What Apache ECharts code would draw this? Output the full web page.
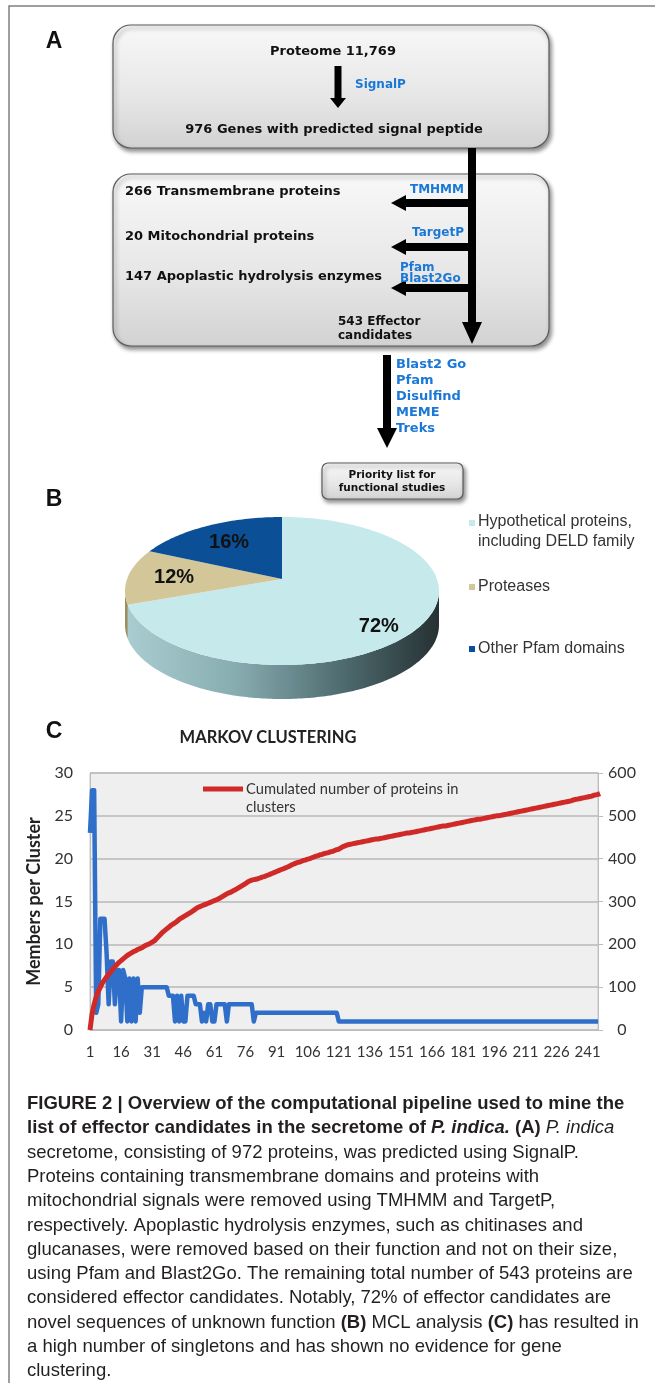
<!DOCTYPE html>
<html><head><meta charset="utf-8">
<script src="https://cdn.jsdelivr.net/npm/echarts@6/dist/echarts.min.js"></script>
<style>html,body{margin:0;padding:0;background:#fff}#c{width:655px;height:1383px}</style>
</head><body><div id="c"></div>
<script>
// ---------------- DATA ----------------
const flowTop = ['Proteome 11,769', '976 Genes with predicted signal peptide'];
const flowTopTool = 'SignalP';
const filterSteps = ['266 Transmembrane proteins', '20 Mitochondrial proteins', '147 Apoplastic hydrolysis enzymes'];
const filterTools = ['TMHMM', 'TargetP', 'Pfam\nBlast2Go'];
const effectorLabel = '543 Effector\ncandidates';
const annotationTools = ['Blast2 Go', 'Pfam', 'Disulfind', 'MEME', 'Treks'];
const priorityLabel = 'Priority list for\nfunctional studies';

const pieNames = ['Hypothetical proteins,\nincluding DELD family', 'Proteases', 'Other Pfam domains'];
const pieValues = [72, 12, 16];

const chartTitle = 'MARKOV CLUSTERING';
const leftAxisName = 'Members per Cluster';
const redSeriesName = 'Cumulated number of proteins in\nclusters';

const membersPerCluster = [
  23, 28, 28, 2, 3, 13, 13, 13, 9, 3, 8, 8, 3, 7, 7, 1, 7, 6, 1, 6, 1, 6, 1, 6, 2,
  5, 5, 5, 5, 5, 5, 5, 5, 5, 5, 5, 5, 5,
  4, 4, 4, 1, 4, 1, 4, 1, 1, 4, 4, 4, 4,
  3, 3, 3, 1, 2, 1, 3, 3, 1, 1, 3, 3, 3, 3, 3, 1, 3, 3, 3, 3, 3, 3, 3, 3, 3, 3, 3, 3,
  1,
  2, 2, 2, 2, 2, 2, 2, 2, 2, 2, 2, 2, 2, 2, 2, 2, 2, 2, 2, 2,
  2, 2, 2, 2, 2, 2, 2, 2, 2, 2, 2, 2, 2, 2, 2, 2, 2, 2, 2, 2,
  1, 1, 1, 1, 1, 1, 1, 1, 1, 1, 1, 1, 1, 1, 1, 1, 1, 1, 1, 1, 1, 1, 1, 1, 1, 1, 1, 1, 1, 1,
  1, 1, 1, 1, 1, 1, 1, 1, 1, 1, 1, 1, 1, 1, 1, 1, 1, 1, 1, 1, 1, 1, 1, 1, 1, 1, 1, 1, 1, 1,
  1, 1, 1, 1, 1, 1, 1, 1, 1, 1, 1, 1, 1, 1, 1, 1, 1, 1, 1, 1, 1, 1, 1, 1, 1, 1, 1, 1, 1, 1,
  1, 1, 1, 1, 1, 1, 1, 1, 1, 1, 1, 1, 1, 1, 1, 1, 1, 1, 1, 1, 1, 1, 1, 1, 1, 1, 1, 1, 1, 1,
  1, 1, 1, 1, 1, 1
];

const cumulatedProteins = [
  0, 38, 60, 78, 90, 100, 110, 117, 124, 130,
  136, 142, 148, 153, 158, 162, 166, 170, 174, 177,
  180, 183, 185, 188, 190, 192, 195, 198, 200, 202,
  205, 208, 213, 218, 223, 228, 232, 236, 240, 244,
  247, 250, 254, 258, 261, 264, 267, 270, 273, 276,
  279, 283, 286, 288, 290, 292, 294, 296, 298, 300,
  302, 304, 306, 309, 312, 315, 318, 320, 322, 325,
  327, 330, 333, 336, 339, 342, 345, 348, 350, 351,
  352, 353, 355, 357, 358, 360, 362, 364, 366, 368,
  370, 372, 374, 376, 378, 380, 382, 385, 387, 389,
  391, 392, 394, 396, 397, 399, 400, 402, 404, 406,
  407, 409, 410, 412, 413, 414, 416, 417, 419, 421,
  422, 425, 428, 430, 432, 433, 434, 435, 436, 437,
  438, 439, 440, 441, 442, 443, 444, 445, 446, 446,
  447, 448, 449, 450, 451, 452, 453, 454, 455, 456,
  457, 458, 459, 460, 460, 461, 462, 463, 464, 465,
  466, 467, 468, 469, 470, 471, 472, 473, 474, 475,
  476, 476, 477, 478, 479, 480, 481, 482, 483, 484,
  485, 486, 487, 488, 489, 490, 491, 492, 492, 493,
  494, 495, 496, 497, 498, 499, 500, 500, 501, 502,
  503, 504, 505, 506, 507, 508, 509, 510, 511, 512,
  513, 514, 515, 516, 517, 518, 519, 520, 521, 522,
  523, 524, 525, 526, 527, 528, 529, 530, 531, 532,
  533, 534, 535, 537, 538, 539, 540, 541, 542, 543,
  544, 545, 546, 548, 549, 550, 552
];

const clusterIds = membersPerCluster.map((_, i) => String(i + 1));

const captionLines = [
  '{b|FIGURE 2 | Overview of the computational pipeline used to mine the}',
  '{b|list of effector candidates in the secretome of }{bi|P. indica.}{b| (A)} {i|P. indica}',
  'secretome, consisting of 972 proteins, was predicted using SignalP.',
  'Proteins containing transmembrane domains and proteins with',
  'mitochondrial signals were removed using TMHMM and TargetP,',
  'respectively. Apoplastic hydrolysis enzymes, such as chitinases and',
  'glucanases, were removed based on their function and not on their size,',
  'using Pfam and Blast2Go. The remaining total number of 543 proteins are',
  'considered effector candidates. Notably, 72% of effector candidates are',
  'novel sequences of unknown function {b|(B)} MCL analysis {b|(C)} has resulted in',
  'a high number of singletons and has shown no evidence for gene',
  'clustering.'
];

// ---------------- STYLE ----------------
const FLOW_FONT = 'DejaVu Sans';
const TOOL_BLUE = '#1b78d6';
const PIE_COLORS = ['#c6e9ec', '#d3c79a', '#0b4f97'];
const PIE = { cx: 282, cy: 591, rx: 157, ry: 74, ax: 282, ay: 579, depth: 34 };
const BLUE_LINE = '#2f6fca';
const RED_LINE = '#cf2a27';
const CHART_FONT = 'Lato';

function txt(x, y, text, opt) {
  return {
    type: 'text', x: x, y: y, silent: true,
    style: Object.assign({
      text: text, fill: '#111', fontFamily: FLOW_FONT, fontWeight: 'bold', fontSize: 13,
      align: 'left', textAlign: 'left', verticalAlign: 'middle', textVerticalAlign: 'middle'
    }, opt || {})
  };
}
function boxGrad() {
  return new echarts.graphic.LinearGradient(0, 0, 0, 1, [
    { offset: 0, color: '#f8f8f8' }, { offset: 0.6, color: '#e6e6e6' }, { offset: 1, color: '#d2d2d2' }
  ]);
}
function box(x, y, w, h, r) {
  return {
    type: 'rect', silent: true, shape: { x: x, y: y, width: w, height: h, r: r },
    style: {
      fill: boxGrad(), stroke: '#5c5c5c', lineWidth: 1.2,
      shadowBlur: 4, shadowOffsetX: 2, shadowOffsetY: 3, shadowColor: 'rgba(0,0,0,0.45)'
    }
  };
}
function poly(points) {
  return { type: 'polygon', silent: true, shape: { points: points }, style: { fill: '#000' } };
}
function downArrow(x, y0, y1, shaftW, headW, headL) {
  return poly([[x - shaftW / 2, y0], [x + shaftW / 2, y0], [x + shaftW / 2, y1 - headL],
    [x + headW / 2, y1 - headL], [x, y1], [x - headW / 2, y1 - headL], [x - shaftW / 2, y1 - headL]]);
}
function leftArrow(y, x0, x1, shaftW, headW, headL) {
  return poly([[x0, y - shaftW / 2], [x0, y + shaftW / 2], [x1 + headL, y + shaftW / 2],
    [x1 + headL, y + headW / 2], [x1, y], [x1 + headL, y - headW / 2], [x1 + headL, y - shaftW / 2]]);
}

const graphics = [];
// frame
graphics.push({ type: 'polyline', silent: true, shape: { points: [[9, 1383], [9, 6], [655, 6]] },
  style: { stroke: '#808080', lineWidth: 1.5, fill: null } });
// panel letters
const letterStyle = { fontFamily: 'Liberation Sans', fontSize: 23, fill: '#111', align: 'center', textAlign: 'center' };
graphics.push(txt(54, 42, 'A', letterStyle));
graphics.push(txt(54, 500, 'B', letterStyle));
graphics.push(txt(54, 732, 'C', letterStyle));

// ---- panel A ----
graphics.push(box(113, 25, 436, 123, 18));
graphics.push(box(113, 174, 436, 172, 18));
graphics.push(box(322, 463, 141, 36, 6));
graphics.push(txt(333, 52, flowTop[0], { align: 'center', textAlign: 'center' }));
graphics.push(downArrow(338, 66, 108, 7, 16, 10));
graphics.push(txt(355, 85, flowTopTool, { fill: TOOL_BLUE, fontSize: 12 }));
graphics.push(txt(334, 130, flowTop[1], { align: 'center', textAlign: 'center' }));
// main vertical connector
graphics.push(downArrow(472, 148, 344, 8, 20, 22));
const filterY = [203, 247, 288];
const textY = [192, 237, 277];
const toolY = [190, 233, 273];
filterSteps.forEach(function (s, i) {
  graphics.push(txt(125, textY[i], s));
  graphics.push(leftArrow(filterY[i], 472, 391, 8, 16, 15));
  graphics.push(txt(i === 2 ? 400 : 464, toolY[i], filterTools[i], {
    fill: TOOL_BLUE, fontSize: 12, lineHeight: 11,
    align: i === 2 ? 'left' : 'right', textAlign: i === 2 ? 'left' : 'right'
  }));
});
graphics.push(txt(338, 329, effectorLabel, { fontSize: 12, lineHeight: 14 }));
graphics.push(downArrow(387, 355, 448, 8, 20, 20));
annotationTools.forEach(function (t, i) {
  graphics.push(txt(396, 365 + i * 16, t, { fill: TOOL_BLUE, fontSize: 13 }));
});
graphics.push(txt(392, 482, priorityLabel, { fontSize: 10.5, lineHeight: 13, align: 'center', textAlign: 'center' }));

// ---- panel B legend ----
const legY = [532, 587, 649];
pieNames.forEach(function (n, i) {
  graphics.push({ type: 'rect', silent: true, shape: { x: 469, y: (i === 0 ? 523 : legY[i]) - 3, width: 6, height: 6 },
    style: { fill: PIE_COLORS[i] } });
  graphics.push(txt(478, legY[i], n, { fontFamily: 'Liberation Sans', fontWeight: 'normal', fontSize: 16,
    lineHeight: 20, fill: '#333' }));
});

// ---- panel C extra texts ----
graphics.push(txt(268, 738, chartTitle, { fontFamily: CHART_FONT, fontSize: 16.5, fill: '#222',
  align: 'center', textAlign: 'center' }));
graphics.push({ type: 'line', silent: true, shape: { x1: 203, y1: 789, x2: 243, y2: 789 },
  style: { stroke: RED_LINE, lineWidth: 5 } });
graphics.push(txt(246, 798, redSeriesName, { fontFamily: CHART_FONT, fontWeight: 'normal', fontSize: 14.7,
  lineHeight: 18, fill: '#333' }));

// ---- caption ----
const capBase = { fontFamily: 'Liberation Sans', fontSize: 18.5, fill: '#231f20' };
captionLines.forEach(function (line, i) {
  graphics.push({
    type: 'text', x: 27, y: 1104 + i * 24.3, silent: true,
    style: Object.assign({}, capBase, {
      text: line, align: 'left', textAlign: 'left', verticalAlign: 'middle', textVerticalAlign: 'middle',
      rich: {
        b: Object.assign({}, capBase, { fontWeight: 'bold' }),
        i: Object.assign({}, capBase, { fontStyle: 'italic' }),
        bi: Object.assign({}, capBase, { fontWeight: 'bold', fontStyle: 'italic' })
      }
    })
  });
});

// ---- 3D pie (custom series) ----
function ellPt(theta) {
  const t = theta * Math.PI / 180;
  return [PIE.cx + PIE.rx * Math.sin(t), PIE.cy - PIE.ry * Math.cos(t)];
}
const sideGrad = new echarts.graphic.LinearGradient(125, 0, 439, 0, [
  { offset: 0, color: '#a9cdd0' }, { offset: 0.35, color: '#88adb1' },
  { offset: 0.7, color: '#4d6a6e' }, { offset: 1, color: '#263133' }
], true);
const sideFills = [sideGrad, '#9a8f62', '#083a70'];

function renderPie(params, api) {
  const i = params.dataIndex;
  const total = pieValues.reduce(function (a, b) { return a + b; }, 0);
  let start = 0;
  for (let k = 0; k < i; k++) start += pieValues[k];
  const v = api.value(0);
  const a0 = start / total * 360, a1 = (start + v) / total * 360;
  const children = [];
  const s0 = Math.max(a0, 90), s1 = Math.min(a1, 270);
  if (s1 > s0) {
    const top = [];
    for (let a = s0; a < s1; a += 1) top.push(ellPt(a));
    top.push(ellPt(s1));
    const bottom = top.map(function (p) { return [p[0], p[1] + PIE.depth]; }).reverse();
    children.push({ type: 'polygon', shape: { points: top.concat(bottom) }, style: { fill: sideFills[i] } });
  }
  const pts = [[PIE.ax, PIE.ay]];
  for (let a = a0; a < a1; a += 1) pts.push(ellPt(a));
  pts.push(ellPt(a1));
  children.push({ type: 'polygon', shape: { points: pts }, style: { fill: PIE_COLORS[i] } });
  const m = ellPt((a0 + a1) / 2);
  const f = i === 0 ? 0.8 : 0.7;
  children.push({
    type: 'text', x: PIE.ax + f * (m[0] - PIE.ax), y: PIE.ay + f * (m[1] - PIE.ay),
    style: { text: v + '%', fontFamily: 'Liberation Sans', fontWeight: 'bold', fontSize: 20, fill: '#111',
      align: 'center', textAlign: 'center', verticalAlign: 'middle', textVerticalAlign: 'middle' }
  });
  return { type: 'group', children: children };
}

// ---------------- OPTION ----------------
const axisGray = '#bdbdbd';
const option = {
  animation: false,
  backgroundColor: '#fff',
  graphic: graphics,
  grid: { left: 90, right: 57, top: 773, bottom: 353, show: true, backgroundColor: '#efefef',
    borderColor: '#c6c6c6', borderWidth: 1 },
  xAxis: {
    type: 'category', data: clusterIds, boundaryGap: false,
    axisLine: { lineStyle: { color: axisGray, width: 1 } },
    axisTick: { show: false },
    axisLabel: { interval: 14, color: '#333', fontSize: 15, fontFamily: CHART_FONT, margin: 15 }
  },
  yAxis: [
    {
      type: 'value', min: 0, max: 30, interval: 5, position: 'left',
      name: leftAxisName, nameLocation: 'middle', nameGap: 41,
      nameTextStyle: { fontFamily: CHART_FONT, fontWeight: 'bold', fontSize: 18, color: '#222' },
      axisLine: { show: true, lineStyle: { color: axisGray } },
      axisTick: { show: false },
      axisLabel: { color: '#333', fontSize: 16, fontFamily: CHART_FONT, margin: 17 },
      splitLine: { lineStyle: { color: '#b8b8b8', width: 1.5 } }
    },
    {
      type: 'value', min: 0, max: 600, interval: 100, position: 'right',
      axisLine: { show: true, lineStyle: { color: axisGray } },
      axisTick: { show: true, length: 5, lineStyle: { color: axisGray } },
      axisLabel: { color: '#333', fontSize: 16, fontFamily: CHART_FONT, margin: 24, align: 'center' },
      splitLine: { show: false }
    }
  ],
  series: [
    {
      type: 'custom', coordinateSystem: 'none', renderItem: renderPie, silent: true,
      data: pieValues.map(function (v, i) { return { name: pieNames[i], value: v }; })
    },
    {
      name: 'Members per cluster', type: 'line', yAxisIndex: 0, data: membersPerCluster,
      showSymbol: false, symbol: 'none', lineStyle: { color: BLUE_LINE, width: 4.5, join: 'round' }, z: 3
    },
    {
      name: redSeriesName, type: 'line', yAxisIndex: 1, data: cumulatedProteins,
      showSymbol: false, symbol: 'none', lineStyle: { color: RED_LINE, width: 5 }, z: 4
    }
  ]
};
const chart = echarts.init(document.getElementById('c'), null, { renderer: 'canvas', width: 655, height: 1383 });
chart.setOption(option);
</script></body></html>
